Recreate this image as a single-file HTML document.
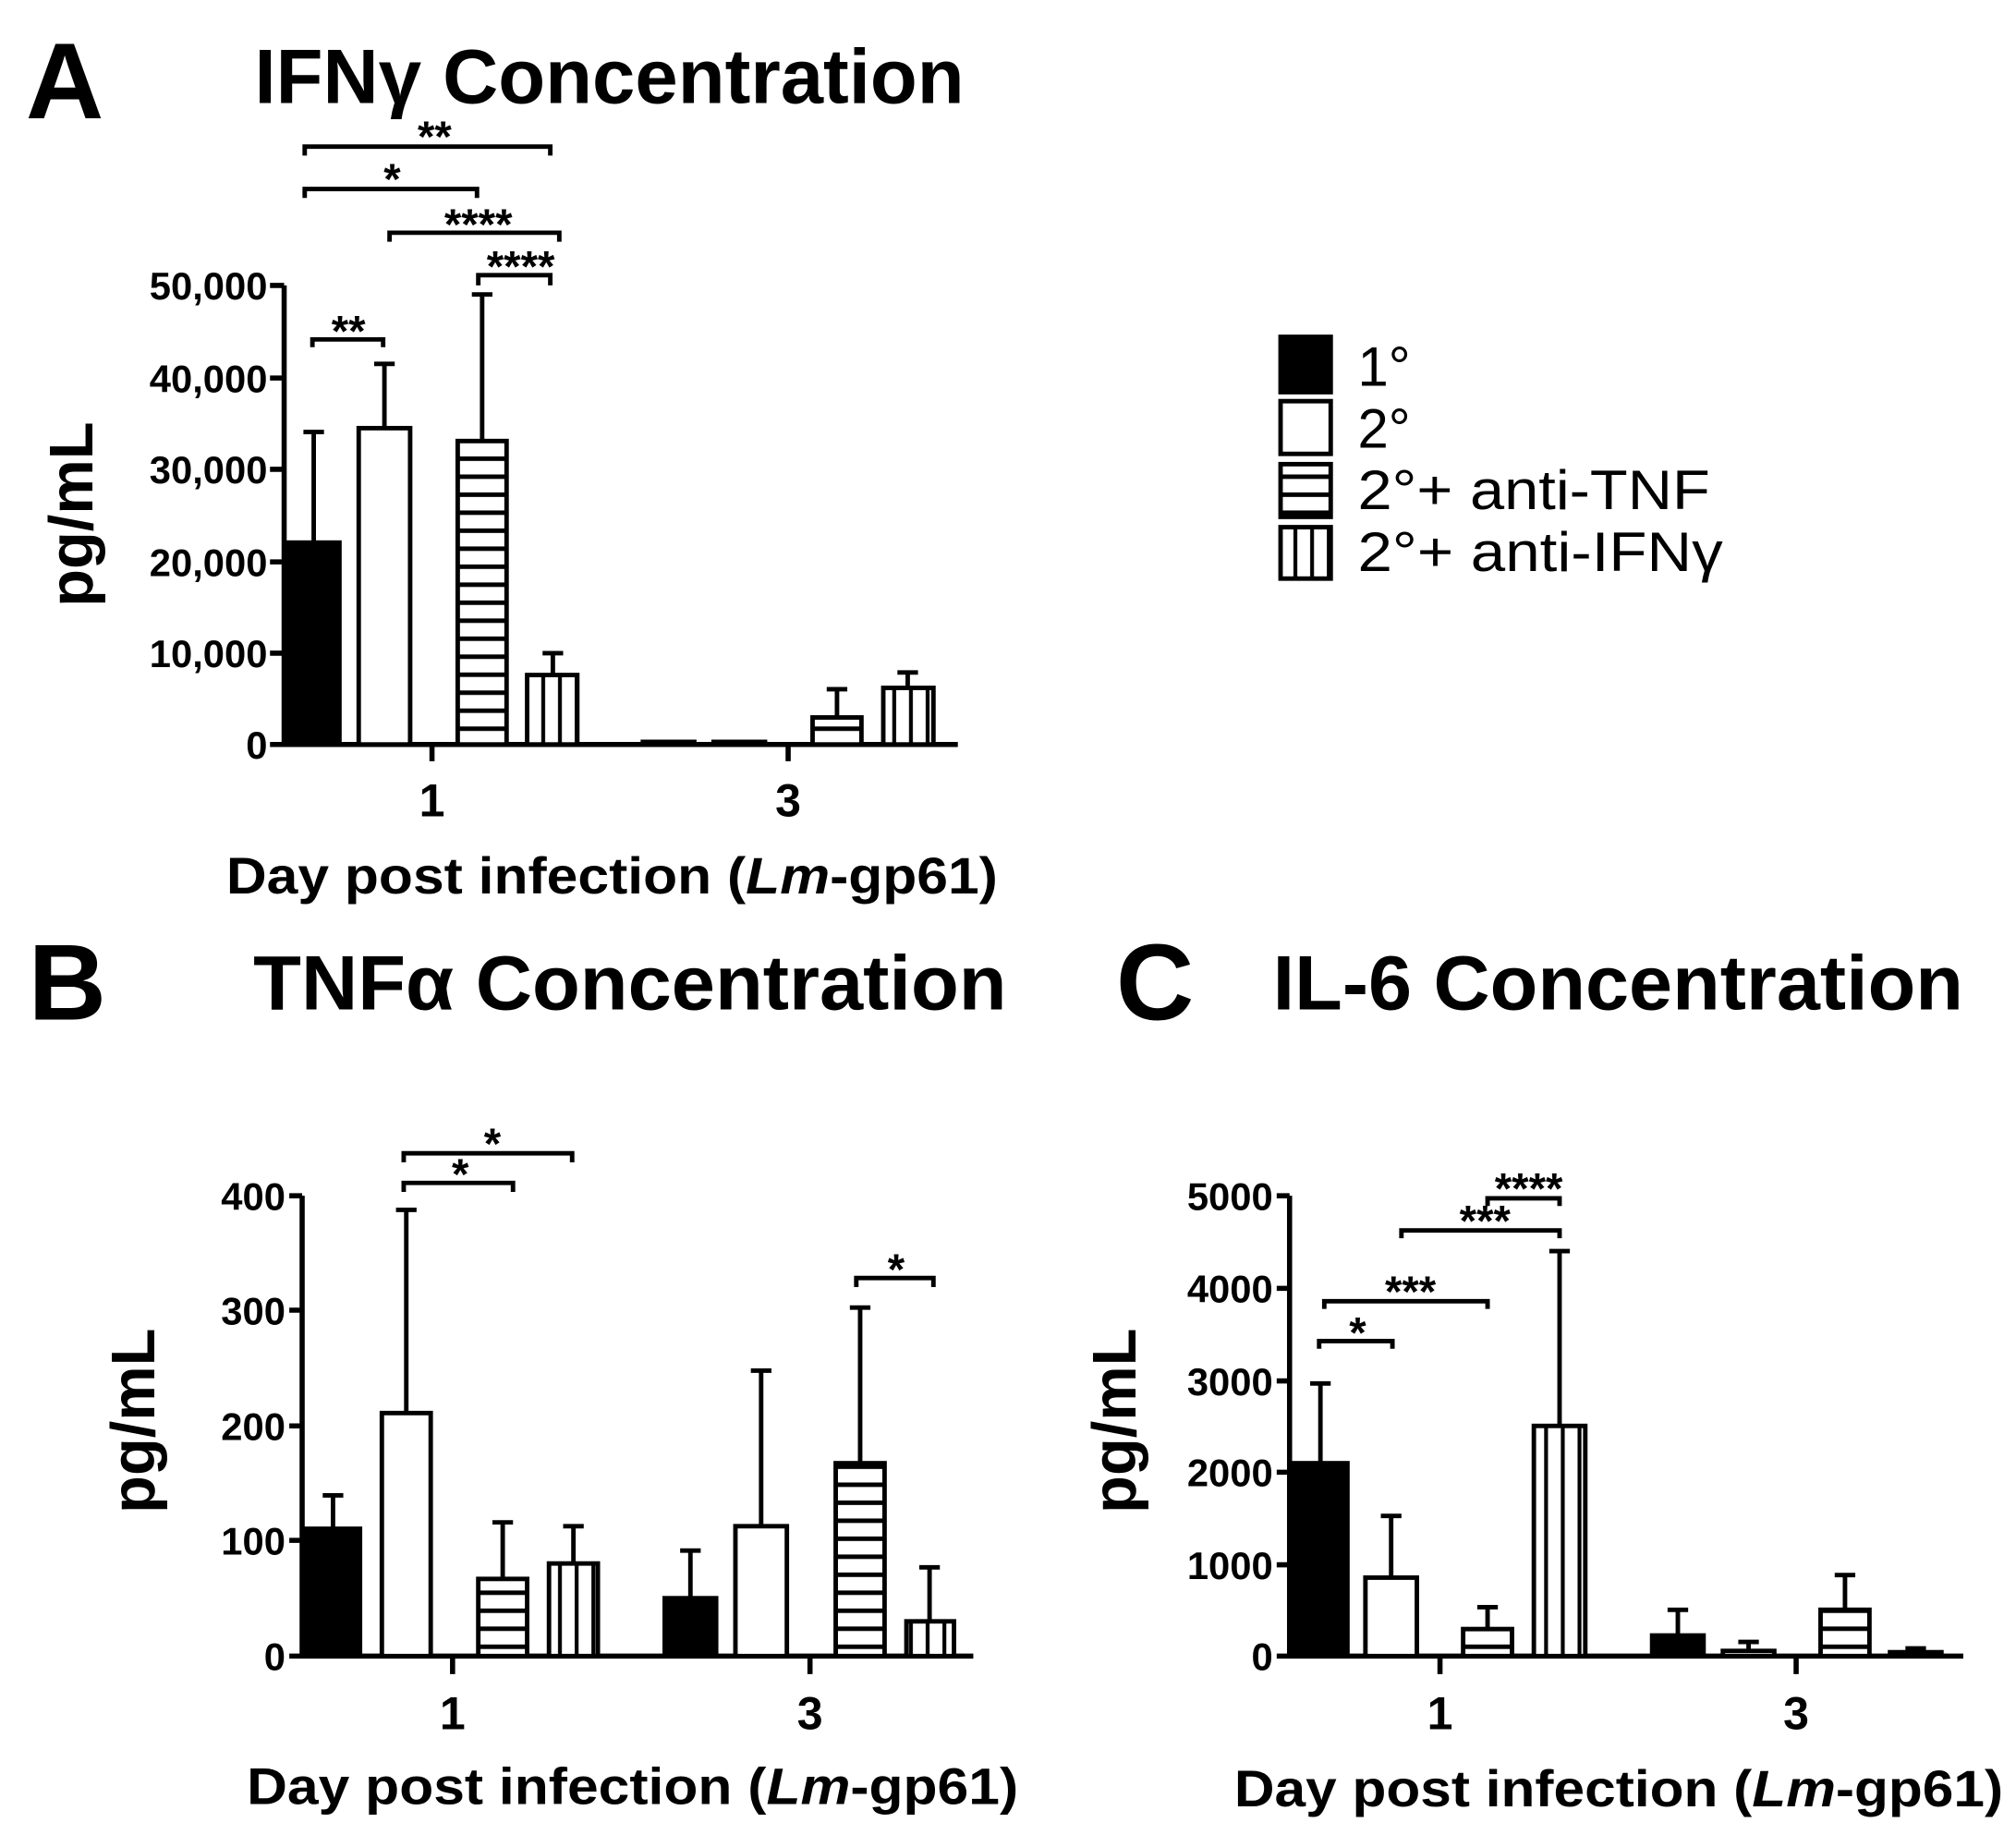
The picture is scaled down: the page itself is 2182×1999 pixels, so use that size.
<!DOCTYPE html>
<html><head><meta charset="utf-8"><style>html,body{margin:0;padding:0;background:#fff}svg{display:block}</style></head><body>
<svg width="2182" height="1999" viewBox="0 0 1568 1436.5" preserveAspectRatio="none" xmlns="http://www.w3.org/2000/svg" font-family="Liberation Sans, sans-serif">
<defs>
<pattern id="hz" patternUnits="userSpaceOnUse" width="20" height="14"><rect width="20" height="14" fill="#fff"/><rect y="5" width="20" height="3.5" fill="#000"/></pattern>
<pattern id="vt" patternUnits="userSpaceOnUse" width="13" height="20"><rect width="13" height="20" fill="#fff"/><rect x="5" width="3" height="20" fill="#000"/></pattern>
</defs>
<g fill="#000" font-weight="bold">
<text x="20" y="92" font-size="84">A</text>
<text x="198" y="80" font-size="60" textLength="552" lengthAdjust="spacingAndGlyphs">IFNγ Concentration</text>
<text x="22" y="793" font-size="84">B</text>
<text x="197" y="785" font-size="60" textLength="586" lengthAdjust="spacingAndGlyphs">TNFα Concentration</text>
<text x="868" y="793" font-size="84">C</text>
<text x="990" y="785" font-size="60" textLength="537" lengthAdjust="spacingAndGlyphs">IL-6 Concentration</text>
</g>
<g stroke="#000" stroke-width="3.5" fill="none">
<path d="M221 222V579H745M336 579v13M613 579v13M210 222h11M210 294h11M210 365h11M210 437h11M210 508h11M210 579h11" stroke-width="4"/>
<path d="M244 422V336M236 336h16M299 333V283M291 283h16M375 343V229M367 229h16M430 525V508M422 508h16M651 558V536M643 536h16M706 535V523M698 523h16"/>
<path d="M237 121V114H428V121M237 154V147H371V154M303 188V181H435V188M372 222V214H428V222M243 270V264H298V270"/>
<path d="M235 930V1288H757M352 1288v14M630 1288v14M225 930h10M225 1019h10M225 1109h10M225 1198h10M225 1288h10" stroke-width="4"/>
<path d="M259 1189V1163M251 1163h16M316 1099V941M308 941h16M391 1228V1184M383 1184h16M446 1216V1187M438 1187h16M537 1243V1206M529 1206h16M592 1187V1066M584 1066h16M669 1138V1017M661 1017h16M723 1261V1219M715 1219h16"/>
<path d="M314 904V897H445V904M314 927V920H399V927M666 1001V994H726V1001"/>
<path d="M1003 930V1288H1527M1120 1288v14M1397 1288v14M993 930h10M993 1002h10M993 1074h10M993 1145h10M993 1217h10M993 1288h10" stroke-width="4"/>
<path d="M1027 1138V1076M1019 1076h16M1082 1227V1179M1074 1179h16M1157 1267V1250M1149 1250h16M1213 1109V973M1205 973h16M1305 1272V1252M1297 1252h16M1360 1284V1277M1352 1277h16M1435 1252V1225M1427 1225h16M1490 1285V1282M1482 1282h16"/>
<path d="M1157 938V932H1213V938M1090 963V957H1213V963M1030 1018V1012H1157V1018M1026 1049V1043H1083V1049"/>
</g>
<g stroke="#000" stroke-width="3.5">
<rect x="224" y="422" width="40" height="157" fill="#000"/>
<rect x="279" y="333" width="40" height="246" fill="#fff"/>
<rect x="356" y="343" width="38" height="236" fill="url(#hz)"/>
<rect x="410" y="525" width="39" height="54" fill="url(#vt)"/>
<rect x="500" y="577" width="40" height="2" fill="#000"/>
<rect x="555" y="577" width="40" height="2" fill="#fff"/>
<rect x="632" y="558" width="38" height="21" fill="url(#hz)"/>
<rect x="687" y="535" width="39" height="44" fill="url(#vt)"/>
<rect x="238" y="1189" width="42" height="99" fill="#000"/>
<rect x="297" y="1099" width="38" height="189" fill="#fff"/>
<rect x="372" y="1228" width="38" height="60" fill="url(#hz)"/>
<rect x="427" y="1216" width="38" height="72" fill="url(#vt)"/>
<rect x="517" y="1243" width="40" height="45" fill="#000"/>
<rect x="572" y="1187" width="40" height="101" fill="#fff"/>
<rect x="650" y="1138" width="38" height="150" fill="url(#hz)"/>
<rect x="705" y="1261" width="37" height="27" fill="url(#vt)"/>
<rect x="1006" y="1138" width="42" height="150" fill="#000"/>
<rect x="1062" y="1227" width="40" height="61" fill="#fff"/>
<rect x="1138" y="1267" width="38" height="21" fill="url(#hz)"/>
<rect x="1193" y="1109" width="40" height="179" fill="url(#vt)"/>
<rect x="1285" y="1272" width="40" height="16" fill="#000"/>
<rect x="1340" y="1284" width="40" height="4" fill="#fff"/>
<rect x="1416" y="1252" width="38" height="36" fill="url(#hz)"/>
<rect x="1470" y="1285" width="40" height="3" fill="#fff"/>
<rect x="996" y="262" width="39" height="43" fill="#000"/>
<rect x="996" y="312" width="39" height="41" fill="#fff"/>
<rect x="996" y="361" width="39" height="41" fill="url(#hz)"/>
<rect x="996" y="410" width="39" height="40" fill="url(#vt)"/>
</g>
<g fill="#000" font-size="43">
<text x="1056" y="300">1°</text>
<text x="1056" y="348">2°</text>
<text x="1056" y="396" textLength="274" lengthAdjust="spacingAndGlyphs">2°+ anti-TNF</text>
<text x="1056" y="444" textLength="284" lengthAdjust="spacingAndGlyphs">2°+ anti-IFNγ</text>
</g>
<g fill="#000" font-weight="bold" text-anchor="middle">
<g font-size="34">
<text x="338" y="118">**</text><text x="305" y="151">*</text><text x="372" y="186">****</text><text x="405" y="219">****</text><text x="271" y="269">**</text>
<text x="383" y="901">*</text><text x="358" y="925">*</text><text x="697" y="999">*</text>
<text x="1189" y="936">****</text><text x="1155" y="961">***</text><text x="1097" y="1016">***</text><text x="1056" y="1048">*</text>
</g>
<g font-size="30" text-anchor="end">
<text x="208" y="233">50,000</text><text x="208" y="305">40,000</text><text x="208" y="376">30,000</text><text x="208" y="448">20,000</text><text x="208" y="519">10,000</text><text x="208" y="590">0</text>
<text x="222" y="941">400</text><text x="222" y="1030">300</text><text x="222" y="1120">200</text><text x="222" y="1209">100</text><text x="222" y="1299">0</text>
<text x="990" y="941">5000</text><text x="990" y="1013">4000</text><text x="990" y="1085">3000</text><text x="990" y="1156">2000</text><text x="990" y="1228">1000</text><text x="990" y="1299">0</text>
</g>
<g font-size="36">
<text x="336" y="635">1</text><text x="613" y="635">3</text>
<text x="352" y="1345">1</text><text x="630" y="1345">3</text>
<text x="1120" y="1345">1</text><text x="1397" y="1345">3</text>
</g>
<g font-size="40">
<text x="476" y="695" textLength="600" lengthAdjust="spacingAndGlyphs">Day post infection (<tspan font-style="italic">Lm</tspan>-gp61)</text>
<text x="492" y="1403" textLength="600" lengthAdjust="spacingAndGlyphs">Day post infection (<tspan font-style="italic">Lm</tspan>-gp61)</text>
<text x="1259" y="1405" textLength="598" lengthAdjust="spacingAndGlyphs">Day post infection (<tspan font-style="italic">Lm</tspan>-gp61)</text>
</g>
<g font-size="48">
<text transform="translate(72,400) rotate(-90)">pg/mL</text>
<text transform="translate(120,1105) rotate(-90)">pg/mL</text>
<text transform="translate(883,1105) rotate(-90)">pg/mL</text>
</g>
</g>
</svg>
</body></html>
